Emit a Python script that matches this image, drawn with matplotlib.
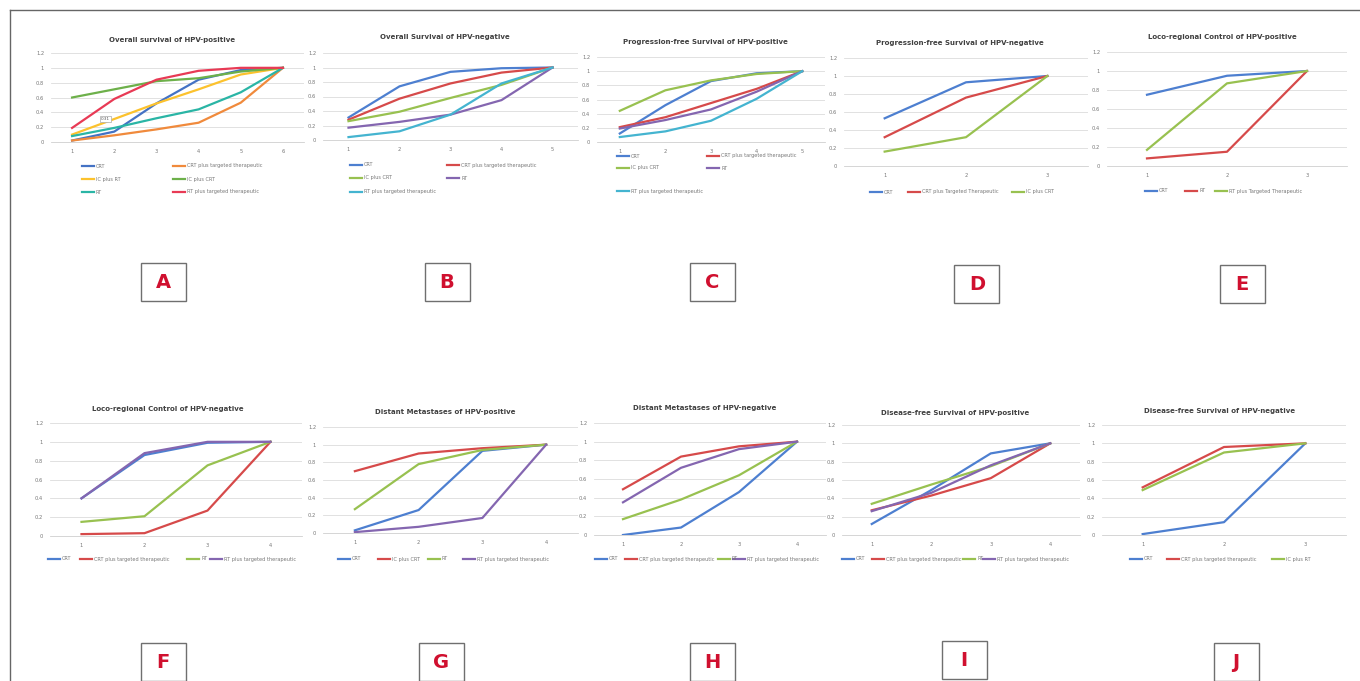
import matplotlib
matplotlib.use('Agg')
import matplotlib.pyplot as plt
from matplotlib.lines import Line2D
from matplotlib.patches import Rectangle

W, H = 1360, 681

# ---- series values (one list per treatment line, categories 1..n) ----
os_pos_names = ['CRT', 'CRT plus targeted therapeutic', 'IC plus RT',
                'IC plus CRT', 'RT', 'RT plus targeted therapeutic']
os_pos_values = [[0.02, 0.14, 0.52, 0.84, 0.97, 1.0],
                 [0.02, 0.09, 0.17, 0.26, 0.53, 1.0],
                 [0.10, 0.31, 0.52, 0.71, 0.91, 1.0],
                 [0.60, 0.71, 0.82, 0.86, 0.95, 1.0],
                 [0.08, 0.19, 0.32, 0.44, 0.67, 1.0],
                 [0.19, 0.58, 0.84, 0.96, 1.0, 1.0]]

os_neg_names = ['CRT', 'CRT plus targeted therapeutic', 'IC plus CRT',
                'RT', 'RT plus targeted therapeutic']
os_neg_values = [[0.31, 0.74, 0.94, 0.99, 1.0],
                 [0.28, 0.57, 0.78, 0.93, 1.0],
                 [0.26, 0.39, 0.58, 0.76, 1.0],
                 [0.17, 0.25, 0.35, 0.55, 1.0],
                 [0.04, 0.12, 0.35, 0.78, 1.0]]

pfs_pos_names = ['CRT', 'CRT plus targeted therapeutic', 'IC plus CRT',
                 'RT', 'RT plus targeted therapeutic']
pfs_pos_values = [[0.12, 0.52, 0.86, 0.97, 1.0],
                  [0.21, 0.35, 0.55, 0.75, 1.0],
                  [0.44, 0.73, 0.87, 0.96, 1.0],
                  [0.19, 0.31, 0.46, 0.71, 1.0],
                  [0.07, 0.15, 0.30, 0.61, 1.0]]

pfs_neg_names = ['CRT', 'CRT plus Targeted Therapeutic', 'IC plus CRT']
pfs_neg_values = [[0.53, 0.93, 1.0],
                  [0.32, 0.76, 1.0],
                  [0.16, 0.32, 1.0]]

lrc_pos_names = ['CRT', 'RT', 'RT plus Targeted Therapeutic']
lrc_pos_values = [[0.75, 0.95, 1.0],
                  [0.08, 0.15, 1.0],
                  [0.17, 0.87, 1.0]]

lrc_neg_names = ['CRT', 'CRT plus targeted therapeutic', 'RT',
                 'RT plus targeted therapeutic']
lrc_neg_values = [[0.40, 0.86, 0.99, 1.0],
                  [0.02, 0.03, 0.27, 1.0],
                  [0.15, 0.21, 0.75, 1.0],
                  [0.40, 0.88, 1.0, 1.0]]

dm_pos_names = ['CRT', 'IC plus CRT', 'RT', 'RT plus targeted therapeutic']
dm_pos_values = [[0.03, 0.26, 0.93, 1.0],
                 [0.70, 0.90, 0.96, 1.0],
                 [0.27, 0.78, 0.94, 1.0],
                 [0.01, 0.07, 0.17, 1.0]]

dm_neg_names = ['CRT', 'CRT plus targeted therapeutic', 'RT',
                'RT plus targeted therapeutic']
dm_neg_values = [[0.0, 0.08, 0.46, 1.0],
                 [0.49, 0.84, 0.95, 1.0],
                 [0.17, 0.38, 0.64, 1.0],
                 [0.35, 0.72, 0.92, 1.0]]

dfs_pos_names = ['CRT', 'CRT plus targeted therapeutic', 'RT',
                 'RT plus targeted therapeutic']
dfs_pos_values = [[0.12, 0.49, 0.89, 1.0],
                  [0.27, 0.43, 0.62, 1.0],
                  [0.34, 0.55, 0.75, 1.0],
                  [0.26, 0.46, 0.76, 1.0]]

dfs_neg_names = ['CRT', 'CRT plus targeted therapeutic', 'IC plus RT']
dfs_neg_values = [[0.01, 0.14, 1.0],
                  [0.52, 0.96, 1.0],
                  [0.49, 0.90, 1.0]]

yticks = [0, 0.2, 0.4, 0.6, 0.8, 1.0, 1.2]
ytick_labels = ['0', '0.2', '0.4', '0.6', '0.8', '1', '1.2']

colors_a = ['#4472c4', '#f08a3c', '#fcc22d', '#6db04a', '#2ab5a5', '#e83a55']
colors_std = ['#4d7fd0', '#d64a4a', '#98c150', '#8466b0', '#44b4d0']

# panel: title, names, values, colors, plot box (left, right, y of 1.2, y of 0),
# title position, legend handle positions, letter, letter box centre (pixels)
panels = [
    ('Overall survival of HPV-positive', os_pos_names, os_pos_values, colors_a,
     (51, 304, 53, 142), (172, 40),
     [(82, 166), (173, 166), (82, 179), (173, 179), (82, 192), (173, 192)],
     'A', (163, 282)),
    ('Overall Survival of HPV-negative', os_neg_names, os_neg_values, colors_std,
     (323, 578, 53, 140), (445, 37),
     [(350, 165), (447, 165), (350, 178), (447, 178), (350, 192)],
     'B', (447, 282)),
    ('Progression-free Survival of HPV-positive', pfs_pos_names, pfs_pos_values, colors_std,
     (597, 825, 57, 142), (705, 42),
     [(617, 156), (707, 156), (617, 168), (707, 168), (617, 191)],
     'C', (712, 282)),
    ('Progression-free Survival of HPV-negative', pfs_neg_names, pfs_neg_values, colors_std,
     (844, 1088, 58, 166), (960, 43),
     [(870, 192), (908, 192), (1012, 192)],
     'D', (977, 284)),
    ('Loco-regional Control of HPV-positive', lrc_pos_names, lrc_pos_values, colors_std,
     (1107, 1347, 52, 166), (1222, 37),
     [(1145, 191), (1185, 191), (1215, 191)],
     'E', (1242, 284)),
    ('Loco-regional Control of HPV-negative', lrc_neg_names, lrc_neg_values,
     [colors_std[0], colors_std[1], colors_std[2], colors_std[3]],
     (50, 302, 423, 536), (168, 409),
     [(48, 559), (80, 559), (187, 559), (210, 559)],
     'F', (163, 662)),
    ('Distant Metastases of HPV-positive', dm_pos_names, dm_pos_values, colors_std,
     (323, 578, 427, 533), (445, 412),
     [(338, 559), (378, 559), (428, 559), (463, 559)],
     'G', (441, 662)),
    ('Distant Metastases of HPV-negative', dm_neg_names, dm_neg_values, colors_std,
     (594, 826, 423, 535), (705, 408),
     [(595, 559), (625, 559), (718, 559), (733, 559)],
     'H', (712, 662)),
    ('Disease-free Survival of HPV-positive', dfs_pos_names, dfs_pos_values, colors_std,
     (842, 1080, 425, 535), (955, 413),
     [(842, 559), (872, 559), (963, 559), (983, 559)],
     'I', (964, 660)),
    ('Disease-free Survival of HPV-negative', dfs_neg_names, dfs_neg_values, colors_std,
     (1102, 1346, 425, 535), (1220, 411),
     [(1130, 559), (1167, 559), (1272, 559)],
     'J', (1236, 662)),
]


def fx(x):
    return x / W


def fy(y):
    return 1 - y / H


fig = plt.figure(figsize=(W / 100, H / 100), dpi=100)
fig.patch.set_facecolor('white')

# outer frame (left and top edges)
fig.add_artist(Line2D([fx(10), fx(10)], [fy(10), fy(H + 5)], color='#666666', lw=1.0,
                      transform=fig.transFigure))
fig.add_artist(Line2D([fx(10), fx(W + 5)], [fy(10), fy(10)], color='#666666', lw=1.0,
                      transform=fig.transFigure))

for title, names, values, cols, box, tpos, legpos, letter, lpos in panels:
    left, right, top, bottom = box
    ax = fig.add_axes([fx(left), fy(bottom), (right - left) / W, (bottom - top) / H])
    n = len(values[0])
    x = list(range(1, n + 1))
    for vals, c in zip(values, cols):
        ax.plot(x, vals, color=c, lw=1.6, solid_joinstyle='round')
    ax.set_xlim(0.5, n + 0.5)
    ax.set_ylim(0, 1.2)
    ax.set_yticks(yticks)
    ax.set_yticklabels(ytick_labels)
    ax.set_xticks(x)
    ax.grid(axis='y', color='#dcdcdc', lw=0.6)
    ax.set_axisbelow(True)
    for side in ['top', 'right', 'left']:
        ax.spines[side].set_visible(False)
    ax.spines['bottom'].set_color('#cfcfcf')
    ax.spines['bottom'].set_linewidth(0.6)
    ax.tick_params(length=0, labelsize=3.7, colors='#777777')
    ax.tick_params(axis='x', pad=5)
    ax.tick_params(axis='y', pad=5)

    if letter == 'A':
        ax.annotate('%.2f' % values[2][1], xy=(2, values[2][1]), xytext=(-3, 0),
                    textcoords='offset points', ha='right', va='center',
                    fontsize=3, color='#555555',
                    bbox=dict(boxstyle='square,pad=0.3', fc='white', ec='#aaaaaa', lw=0.5))

    fig.text(fx(tpos[0]), fy(tpos[1]), title, ha='center', va='center',
             fontsize=5.0, fontweight='bold', color='#404040')

    for (lx, ly), name, c in zip(legpos, names, cols):
        fig.add_artist(Line2D([fx(lx), fx(lx + 12)], [fy(ly), fy(ly)], color=c, lw=1.6,
                              transform=fig.transFigure))
        fig.text(fx(lx + 14), fy(ly), name, ha='left', va='center',
                 fontsize=3.6, color='#777777')

    cx, cy = lpos
    fig.add_artist(Rectangle((fx(cx - 22.5), fy(cy + 19)), 45 / W, 38 / H,
                             transform=fig.transFigure, facecolor='white',
                             edgecolor='#6f6f6f', lw=1.0))
    fig.text(fx(cx), fy(cy), letter, ha='center', va='center', fontsize=14,
             fontweight='bold', color='#d0102f')

fig.savefig('out.png', dpi=100)
